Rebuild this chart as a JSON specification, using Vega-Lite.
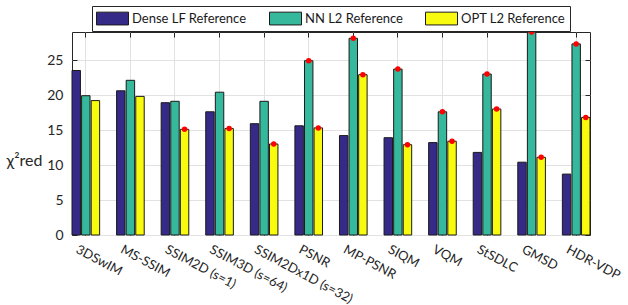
{
  "$schema": "https://vega.github.io/schema/vega-lite/v6.json",
  "autosize": "none",
  "width": 518,
  "height": 203,
  "padding": {"left": 72, "top": 32, "right": 38, "bottom": 70},
  "background": "white",
  "config": {
    "font": "Lato",
    "view": {"stroke": "#262626", "strokeWidth": 1},
    "axis": {
      "domain": false,
      "gridColor": "#e2e2e2",
      "gridWidth": 1,
      "tickColor": "#262626",
      "labelColor": "#262626",
      "labelFont": "Lato",
      "labelFontSize": 14,
      "titleFont": "Lato",
      "titleColor": "#262626"
    }
  },
  "data": {
    "values": [
      {"m": "3DSwIM", "g": "Dense LF Reference", "v": 23.5, "s": 0},
      {"m": "3DSwIM", "g": "NN L2 Reference", "v": 19.9, "s": 0},
      {"m": "3DSwIM", "g": "OPT L2 Reference", "v": 19.2, "s": 0},
      {"m": "MS-SSIM", "g": "Dense LF Reference", "v": 20.6, "s": 0},
      {"m": "MS-SSIM", "g": "NN L2 Reference", "v": 22.1, "s": 0},
      {"m": "MS-SSIM", "g": "OPT L2 Reference", "v": 19.8, "s": 0},
      {"m": "SSIM2D (s=1)", "g": "Dense LF Reference", "v": 18.9, "s": 0},
      {"m": "SSIM2D (s=1)", "g": "NN L2 Reference", "v": 19.1, "s": 0},
      {"m": "SSIM2D (s=1)", "g": "OPT L2 Reference", "v": 15.1, "s": 1},
      {"m": "SSIM3D (s=64)", "g": "Dense LF Reference", "v": 17.6, "s": 0},
      {"m": "SSIM3D (s=64)", "g": "NN L2 Reference", "v": 20.4, "s": 0},
      {"m": "SSIM3D (s=64)", "g": "OPT L2 Reference", "v": 15.2, "s": 1},
      {"m": "SSIM2Dx1D (s=32)", "g": "Dense LF Reference", "v": 15.9, "s": 0},
      {"m": "SSIM2Dx1D (s=32)", "g": "NN L2 Reference", "v": 19.1, "s": 0},
      {"m": "SSIM2Dx1D (s=32)", "g": "OPT L2 Reference", "v": 13.0, "s": 1},
      {"m": "PSNR", "g": "Dense LF Reference", "v": 15.6, "s": 0},
      {"m": "PSNR", "g": "NN L2 Reference", "v": 24.9, "s": 1},
      {"m": "PSNR", "g": "OPT L2 Reference", "v": 15.3, "s": 1},
      {"m": "MP-PSNR", "g": "Dense LF Reference", "v": 14.2, "s": 0},
      {"m": "MP-PSNR", "g": "NN L2 Reference", "v": 28.1, "s": 1},
      {"m": "MP-PSNR", "g": "OPT L2 Reference", "v": 22.9, "s": 1},
      {"m": "SIQM", "g": "Dense LF Reference", "v": 13.9, "s": 0},
      {"m": "SIQM", "g": "NN L2 Reference", "v": 23.7, "s": 1},
      {"m": "SIQM", "g": "OPT L2 Reference", "v": 12.9, "s": 1},
      {"m": "VQM", "g": "Dense LF Reference", "v": 13.2, "s": 0},
      {"m": "VQM", "g": "NN L2 Reference", "v": 17.6, "s": 1},
      {"m": "VQM", "g": "OPT L2 Reference", "v": 13.4, "s": 1},
      {"m": "StSDLC", "g": "Dense LF Reference", "v": 11.8, "s": 0},
      {"m": "StSDLC", "g": "NN L2 Reference", "v": 23.0, "s": 1},
      {"m": "StSDLC", "g": "OPT L2 Reference", "v": 18.0, "s": 1},
      {"m": "GMSD", "g": "Dense LF Reference", "v": 10.4, "s": 0},
      {"m": "GMSD", "g": "NN L2 Reference", "v": 29.0, "s": 1},
      {"m": "GMSD", "g": "OPT L2 Reference", "v": 11.1, "s": 1},
      {"m": "HDR-VDP", "g": "Dense LF Reference", "v": 8.7, "s": 0},
      {"m": "HDR-VDP", "g": "NN L2 Reference", "v": 27.3, "s": 1},
      {"m": "HDR-VDP", "g": "OPT L2 Reference", "v": 16.8, "s": 1}
    ]
  },
  "layer": [
    {
      "mark": {"type": "bar", "stroke": "#1a1a1a", "strokeWidth": 1},
      "encoding": {
        "x": {
          "field": "m", "type": "nominal",
          "sort": ["3DSwIM", "MS-SSIM", "SSIM2D (s=1)", "SSIM3D (s=64)", "SSIM2Dx1D (s=32)", "PSNR", "MP-PSNR", "SIQM", "VQM", "StSDLC", "GMSD", "HDR-VDP"],
          "scale": {"paddingInner": 0.38, "paddingOuter": 0},
          "axis": {"title": null, "labelAngle": 28, "labelAlign": "left", "labelBaseline": "top", "labelFontSize": 13, "labelOffset": -6, "bandPosition": 0.5, "grid": true, "ticks": true, "tickSize": -5, "labelPadding": 13, "labelLimit": 200}
        },
        "xOffset": {
          "field": "g", "type": "nominal",
          "sort": ["Dense LF Reference", "NN L2 Reference", "OPT L2 Reference"],
          "scale": {"paddingInner": 0.12}
        },
        "y": {
          "field": "v", "type": "quantitative",
          "scale": {"domain": [0, 29], "nice": false, "zero": true},
          "axis": {"title": "χ²red", "values": [0, 5, 10, 15, 20, 25], "titleAngle": 0, "titleFontSize": 16, "titleFontWeight": "normal", "titleAlign": "right", "titleBaseline": "middle", "titleX": -30, "titleY": 128, "tickSize": -5, "labelPadding": 14, "grid": true}
        },
        "color": {
          "field": "g", "type": "nominal",
          "scale": {"domain": ["Dense LF Reference", "NN L2 Reference", "OPT L2 Reference"], "range": ["#352A87", "#36B89C", "#F9FB0E"]},
          "legend": {
            "title": null, "orient": "none", "legendX": 20, "legendY": -26, "direction": "horizontal",
            "symbolType": "M-1,-0.8H3V0.8H-1Z", "symbolSize": 256, "symbolStrokeColor": "#1a1a1a", "symbolStrokeWidth": 1, "symbolOpacity": 1,
            "labelFontSize": 13, "labelFont": "Lato", "labelColor": "#1a1a1a", "labelOffset": 19, "columnPadding": 20,
            "strokeColor": "#262626", "fillColor": "white", "padding": 4, "labelLimit": 300
          }
        }
      }
    },
    {
      "transform": [{"filter": "datum.s == 1"}],
      "mark": {"type": "point", "filled": true, "color": "#ff0000", "size": 30, "opacity": 1},
      "encoding": {
        "x": {
          "field": "m", "type": "nominal",
          "sort": ["3DSwIM", "MS-SSIM", "SSIM2D (s=1)", "SSIM3D (s=64)", "SSIM2Dx1D (s=32)", "PSNR", "MP-PSNR", "SIQM", "VQM", "StSDLC", "GMSD", "HDR-VDP"],
          "axis": {"orient": "top", "title": null, "labels": false, "grid": false, "bandPosition": 0.5, "tickSize": -5}
        },
        "xOffset": {
          "field": "g", "type": "nominal",
          "sort": ["Dense LF Reference", "NN L2 Reference", "OPT L2 Reference"]
        },
        "y": {
          "field": "v", "type": "quantitative",
          "axis": {"orient": "right", "title": null, "labels": false, "grid": false, "values": [0, 5, 10, 15, 20, 25], "tickSize": -5}
        }
      }
    }
  ],
  "resolve": {"axis": {"x": "independent", "y": "independent"}}
}
